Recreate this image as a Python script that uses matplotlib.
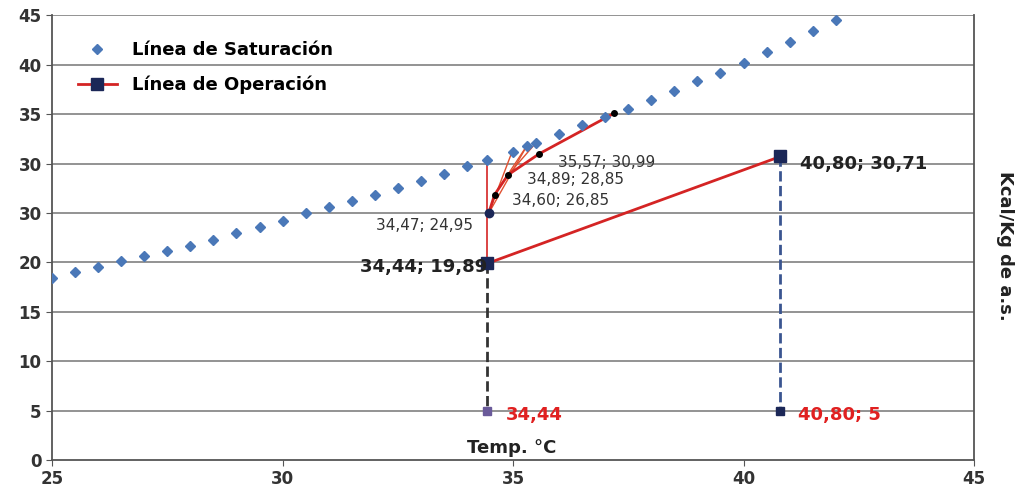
import matplotlib.pyplot as plt

# saturation line (Temp, enthalpy)
sat_t = [25.0, 25.5, 26.0, 26.5, 27.0, 27.5, 28.0, 28.5, 29.0, 29.5, 30.0, 30.5,
         31.0, 31.5, 32.0, 32.5, 33.0, 33.5, 34.0, 34.44, 35.0, 35.3, 35.5, 36.0,
         36.5, 37.0, 37.5, 38.0, 38.5, 39.0, 39.5, 40.0, 40.5, 41.0, 41.5, 42.0]
sat_h = [18.4, 19.0, 19.5, 20.1, 20.6, 21.1, 21.7, 22.3, 23.0, 23.6, 24.2, 25.0,
         25.6, 26.2, 26.8, 27.5, 28.2, 28.9, 29.7, 30.4, 31.2, 31.8, 32.1, 33.0,
         33.9, 34.7, 35.5, 36.4, 37.3, 38.3, 39.2, 40.2, 41.3, 42.3, 43.4, 44.5]

# operation line
op_t = [34.44, 40.80]
op_h = [19.89, 30.71]

# stepwise construction points
step_t = [34.47, 34.60, 34.89, 35.57, 37.20]
step_h = [24.95, 26.85, 28.85, 30.99, 35.10]
step_labels = ["34,47; 24,95", "34,60; 26,85", "34,89; 28,85", "35,57; 30,99"]

# tie lines to the saturation curve
tie_from = [(34.47, 24.95), (34.47, 24.95), (34.60, 26.85), (34.89, 28.85)]
tie_to = [(34.98, 31.2), (35.3, 31.8), (35.3, 31.8), (35.5, 32.1)]

yticks = [0, 5, 10, 15, 20, 25, 30, 35, 40, 45]
ytick_labels = ["0", "5", "10", "15", "20", "30", "30", "35", "40", "45"]
xticks = [25, 30, 35, 40, 45]

fig = plt.figure(figsize=(10.21, 4.91), dpi=100)
ax = fig.add_axes([0.051, 0.063, 0.903, 0.906])

for y in yticks[1:]:
    ax.axhline(y, color='#8a8a8a', lw=1.3, zorder=0)

sat_col = '#4a78b8'
red = '#d42424'
navy = '#1b2757'

ax.plot(sat_t, sat_h, ls='none', marker='D', ms=5, color=sat_col,
        label='Línea de Saturación', zorder=3)

# vertical from the inlet point up to saturation
ax.plot([34.44, 34.44], [19.89, 30.4], color=red, lw=1.2, zorder=2)
for (x0, y0), (x1, y1) in zip(tie_from, tie_to):
    ax.plot([x0, x1], [y0, y1], color='#e05030', lw=1.0, zorder=2)
ax.plot(step_t, step_h, color=red, lw=2, zorder=2)
ax.plot(step_t[1:], step_h[1:], ls='none', marker='o', ms=4, color='black', zorder=4)
ax.plot(step_t[0], step_h[0], marker='o', ms=6, color=navy, zorder=4)

ax.plot(op_t, op_h, color=red, lw=2, marker='s', ms=9, mfc=navy, mec=navy,
        label='Línea de Operación', zorder=3)

# drop lines to the temperature axis
ax.plot([34.44, 34.44], [19.89, 5], color='#333333', ls='--', lw=2, zorder=1)
ax.plot(34.44, 5, marker='s', ms=6, color='#6a5a9a', zorder=3)
ax.plot([40.80, 40.80], [30.71, 5], color='#3a5590', ls='--', lw=2, zorder=1)
ax.plot(40.80, 5, marker='s', ms=6, color=navy, zorder=3)

ax.text(34.44, 19.5, "34,44; 19,89", ha='right', va='center', fontsize=13,
        fontweight='bold', color='#222222')
ax.text(41.22, 30.0, "40,80; 30,71", ha='left', va='center', fontsize=13,
        fontweight='bold', color='#222222')
ax.text(34.85, 4.6, "34,44", ha='left', va='center', fontsize=13,
        fontweight='bold', color='#e02020')
ax.text(41.18, 4.6, "40,80; 5", ha='left', va='center', fontsize=13,
        fontweight='bold', color='#e02020')

lab_pos = [(34.13, 23.7, 'right'), (34.98, 26.3, 'left'),
           (35.30, 28.4, 'left'), (35.98, 30.1, 'left')]
for (lx, ly, ha), txt in zip(lab_pos, step_labels):
    ax.text(lx, ly, txt, ha=ha, va='center', fontsize=11, color='#333333')

ax.text(34.98, 1.2, "Temp. °C", ha='center', va='center', fontsize=13,
        fontweight='bold', color='#222222')
fig.text(0.984, 0.5, "Kcal/Kg de a.s.", rotation=-90, ha='center', va='center',
         fontsize=13, fontweight='bold', color='#222222')

ax.set_xlim(25, 45)
ax.set_ylim(0, 45)
ax.set_xticks(xticks)
ax.set_yticks(yticks)
ax.set_yticklabels(ytick_labels)
for label in ax.get_xticklabels() + ax.get_yticklabels():
    label.set_fontsize(12)
    label.set_fontweight('bold')
    label.set_color('#333333')
ax.tick_params(direction='out', length=4, color='#555555')
for s in ax.spines.values():
    s.set_color('#555555')
    s.set_linewidth(1.3)
ax.spines['top'].set_visible(False)

ax.legend(loc='upper left', bbox_to_anchor=(0.01, 0.978), frameon=False,
          prop={'size': 13, 'weight': 'bold'}, handlelength=2.2,
          labelspacing=0.9)

plt.savefig('out.png')
